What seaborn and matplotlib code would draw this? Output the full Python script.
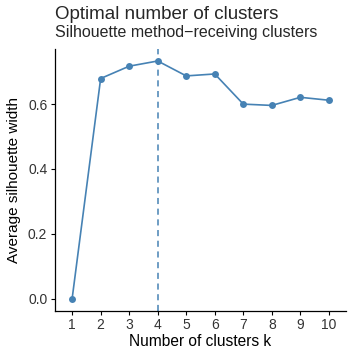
import matplotlib
matplotlib.use('Agg')
import matplotlib.pyplot as plt
import seaborn as sns
import pandas as pd

# datos
clusters_k = [1, 2, 3, 4, 5, 6, 7, 8, 9, 10]
silhouette = [0.0, 0.679, 0.717, 0.733, 0.687, 0.693, 0.600, 0.596, 0.621, 0.612]
optimal_k = 4
y_ticks = [0.0, 0.2, 0.4, 0.6]

df = pd.DataFrame({'k': clusters_k, 'sil': silhouette})

sns.set_theme(style='ticks')
plt.rcParams['font.family'] = ['Liberation Sans', 'DejaVu Sans']

color = '#4682B4'

fig = plt.figure(figsize=(3.54, 3.54), dpi=100)
ax = fig.add_axes([0.1554, 0.1223, 0.822, 0.7393])

sns.lineplot(data=df, x='k', y='sil', color=color, marker='o', markersize=5,
             markeredgewidth=0, linewidth=1.2, ax=ax)
ax.axvline(optimal_k, color=color, linestyle=(0, (4, 3)), linewidth=1.1)

ax.set_xlim(0.4, 10.6)
ax.set_ylim(-0.037, 0.77)
ax.set_xticks(clusters_k)
ax.set_xticklabels([str(k) for k in clusters_k])
ax.set_yticks(y_ticks)
ax.set_yticklabels([f'{v:.1f}' for v in y_ticks])

ax.set_xlabel('Number of clusters k', fontsize=11.2, color='black', labelpad=1)
ax.set_ylabel('Average silhouette width', fontsize=11, color='black', labelpad=5)
ax.tick_params(axis='both', labelsize=10, labelcolor='#333333', length=3, width=0.8,
               color='black', pad=2.5)

for side in ['top', 'right']:
    ax.spines[side].set_visible(False)
for side in ['left', 'bottom']:
    ax.spines[side].set_color('black')
    ax.spines[side].set_linewidth(0.9)

fig.text(0.1554, 0.958, 'Optimal number of clusters', fontsize=13.5, ha='left', va='center')
fig.text(0.1554, 0.907, 'Silhouette method\u2212receiving clusters', fontsize=11.5,
         ha='left', va='center')

plt.savefig('out.png', dpi=100)
